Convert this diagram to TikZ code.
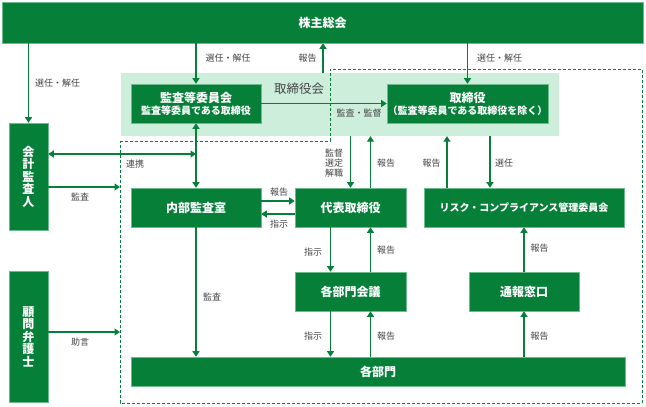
\documentclass[tikz,border=0pt]{standalone}
\usepackage{fontspec}
\setmainfont{Noto Sans CJK JP}
\usetikzlibrary{arrows.meta}
\definecolor{dg}{HTML}{068038}
\definecolor{lg}{HTML}{CCEEDA}
\definecolor{bd}{HTML}{6DBB8C}
\definecolor{tx}{HTML}{444444}
\tikzset{
 box/.style={fill=dg, draw=bd, line width=0.6pt, text=white, font=\fontsize{12}{14}\selectfont\bfseries, inner sep=0pt, align=center},
 arr/.style={draw=dg, line width=1.2pt, -{Triangle[width=7pt,length=5.5pt]}},
 darr/.style={draw=dg, line width=1.2pt, {Triangle[width=7pt,length=5.5pt]}-{Triangle[width=7pt,length=5.5pt]}},
 lbl/.style={text=tx, font=\fontsize{9}{10}\selectfont, inner sep=0pt, align=center},
 dashbox/.style={draw=dg, line width=0.8pt, dash pattern=on 3pt off 2pt},
}
\begin{document}
\begin{tikzpicture}[x=1pt,y=-1pt]
\useasboundingbox (0,0) rectangle (646,407);
% board area
\node[fill=lg, minimum width=438pt, minimum height=63pt, inner sep=0pt] (board) at (340,104.5) {};
% dashed boundary
\coordinate (d1) at (120,141);
\coordinate (d2) at (330,141);
\coordinate (d3) at (330,69);
\coordinate (d4) at (642,69);
\coordinate (d5) at (642,403);
\coordinate (d6) at (120,403);
\draw[dashbox] (d1) -- (d2) -- (d3) -- (d4) -- (d5) -- (d6) -- cycle;
% boxes
\node[box, minimum width=641pt, minimum height=41pt] (agm) at (322.5,22.5) {株主総会};
\node[box, minimum width=130pt, minimum height=39pt] (acc) at (196,103.5) {監査等委員会\\[-2pt]{\fontsize{10}{12}\selectfont 監査等委員である取締役}};
\node[box, minimum width=161pt, minimum height=39pt] (dir) at (467.5,103.5) {取締役\\[-2pt]{\fontsize{10}{12}\selectfont （監査等委員である取締役を除く）}};
\node[box, minimum width=39pt, minimum height=107pt, font=\fontsize{12}{12.5}\selectfont\bfseries] (auditor) at (28.5,176.5) {会\\計\\監\\査\\人};
\node[box, minimum width=39pt, minimum height=131pt, font=\fontsize{12}{12.5}\selectfont\bfseries] (lawyer) at (28.5,336.5) {顧\\問\\弁\\護\\士};
\node[box, minimum width=130pt, minimum height=39pt] (ia) at (196,207.5) {内部監査室};
\node[box, minimum width=111pt, minimum height=39pt] (ceo) at (350.5,207.5) {代表取締役};
\node[box, minimum width=200pt, minimum height=39pt, font=\fontsize{10}{12}\selectfont\bfseries] (risk) at (524,207.5) {リスク・コンプライアンス管理委員会};
\node[box, minimum width=111pt, minimum height=39pt] (mtg) at (350.5,291.5) {各部門会議};
\node[box, minimum width=110pt, minimum height=39pt] (hotline) at (524,291.5) {通報窓口};
\node[box, minimum width=494pt, minimum height=29pt] (depts) at (378,371.5) {各部門};
% board label
\node[text=tx, font=\fontsize{12.5}{14}\selectfont, inner sep=0pt] (boardlbl) at (299,89) {取締役会};
% helper coordinates
\coordinate (y154) at (0,154);
% arrows
\draw[arr] (acc.north |- agm.south) -- (acc.north);
\draw[arr] ([xshift=-17pt]board.north) -- ([xshift=-17pt]board.north |- agm.south);
\draw[arr] (dir.north |- agm.south) -- (dir.north);
\draw[arr] (auditor.north |- agm.south) -- (auditor.north);
\draw[arr] (acc.east) -- (dir.west);
\draw[darr] (auditor.east |- y154) -- (acc.south |- y154);
\draw[arr] ([yshift=-10.5pt]auditor.east) -- ([yshift=-10.5pt]auditor.east -| d1);
\draw[arr] ([yshift=4.5pt]lawyer.east) -- ([yshift=4.5pt]lawyer.east -| d1);
\draw[darr] (acc.south) -- (ia.north);
\draw[arr] ([yshift=6.5pt]ia.east) -- ([yshift=6.5pt]ceo.west);
\draw[arr] ([yshift=-6.5pt]ceo.west) -- ([yshift=-6.5pt]ia.east);
\draw[arr] (ceo.north |- board.south) -- (ceo.north);
\draw[arr] ([xshift=20pt]ceo.north) -- ([xshift=20pt]ceo.north |- board.south);
\draw[arr] ([xshift=-77pt]risk.north) -- ([xshift=-77pt]risk.north |- board.south);
\draw[arr] ([xshift=-34pt]risk.north |- board.south) -- ([xshift=-34pt]risk.north);
\draw[arr] ([xshift=-20pt]ceo.south) -- ([xshift=-20pt]mtg.north);
\draw[arr] ([xshift=20pt]mtg.north) -- ([xshift=20pt]ceo.south);
\draw[arr] ([xshift=-20pt]mtg.south) -- ([xshift=-20pt]mtg.south |- depts.north);
\draw[arr] ([xshift=20pt]mtg.south |- depts.north) -- ([xshift=20pt]mtg.south);
\draw[arr] (hotline.north) -- (risk.south);
\draw[arr] (hotline.south |- depts.north) -- (hotline.south);
\draw[arr] (ia.south) -- (ia.south |- depts.north);
% labels
\node[lbl] (l1) at (228,58) {選任・解任};
\node[lbl] (l2) at (307.5,58) {報告};
\node[lbl] (l3) at (499.5,58) {選任・解任};
\node[lbl] (l4) at (57.5,83) {選任・解任};
\node[lbl] (l6) at (359,113) {監査・監督};
\node[lbl] (l7) at (135,164) {連携};
\node[lbl] (l8) at (80,197) {監査};
\node[lbl] (l9) at (80,342) {助言};
\node[lbl] (l10) at (279,192) {報告};
\node[lbl] (l11) at (279,224) {指示};
\node[lbl] (l12) at (334,163) {監督\\選定\\解職};
\node[lbl] (l13) at (386,163) {報告};
\node[lbl] (l14) at (431.5,163) {報告};
\node[lbl] (l15) at (504,163) {選任};
\node[lbl] (l16) at (313,252) {指示};
\node[lbl] (l17) at (386,250) {報告};
\node[lbl] (l18) at (539.5,248) {報告};
\node[lbl] (l19) at (212,297) {監査};
\node[lbl] (l20) at (313,336) {指示};
\node[lbl] (l21) at (386,336) {報告};
\node[lbl] (l22) at (539.5,336) {報告};
\end{tikzpicture}
\end{document}
